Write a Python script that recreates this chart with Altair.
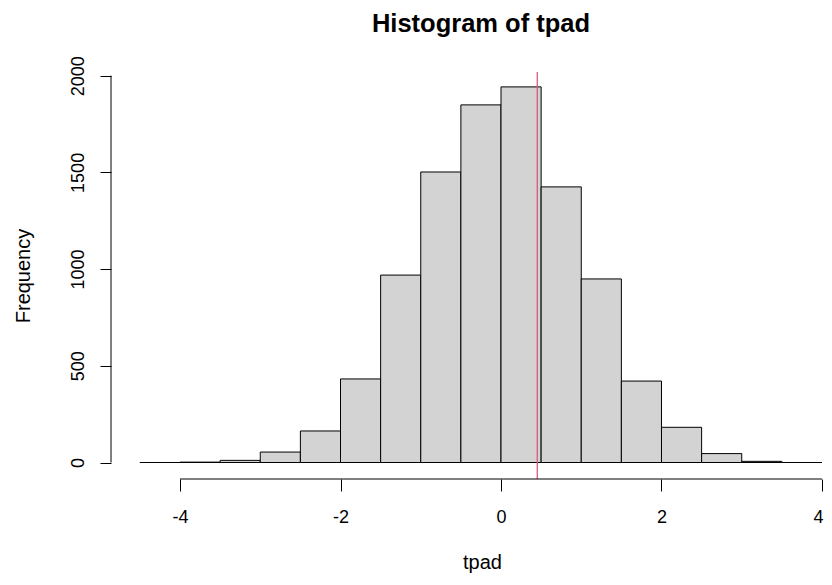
import altair as alt
import pandas as pd

# Histogram data (bin edges and counts)
bin_left = [-4.5, -4.0, -3.5, -3.0, -2.5, -2.0, -1.5, -1.0, -0.5, 0.0, 0.5, 1.0, 1.5, 2.0, 2.5, 3.0, 3.5]
bin_right = [-4.0, -3.5, -3.0, -2.5, -2.0, -1.5, -1.0, -0.5, 0.0, 0.5, 1.0, 1.5, 2.0, 2.5, 3.0, 3.5, 4.0]
counts = [0, 2, 11, 54, 163, 432, 969, 1502, 1849, 1942, 1425, 949, 421, 182, 46, 6, 0]

x_ticks = [-4, -2, 0, 2, 4]
y_ticks = [0, 500, 1000, 1500, 2000]
vline_x = [0.452]
title_text = ["Histogram of tpad"]

bars_df = pd.DataFrame({"left": bin_left, "right": bin_right, "count": counts, "base": [0] * len(counts)})
xaxis_df = pd.DataFrame({"a": [min(x_ticks)], "b": [max(x_ticks)]})
yaxis_df = pd.DataFrame({"a": [min(y_ticks)], "b": [max(y_ticks)]})
vline_df = pd.DataFrame({"v": vline_x})
title_df = pd.DataFrame({"t": title_text})

FONT = "Liberation Sans"
W, H = 713, 407

xscale = alt.Scale(domain=[-4.86, 4.025], nice=False, zero=False)
yscale = alt.Scale(domain=[-85.3, 2019.0], nice=False, zero=False)

xaxis = alt.Axis(
    values=x_ticks, domain=False, grid=False, tickSize=12, tickColor="black", tickWidth=1,
    labelFont=FONT, labelFontSize=18, labelColor="black", labelPadding=17, labelFlush=False,
    labelBaseline="top", labelAlign="center", labelExpr="'' + datum.value",
    labelOffset={"condition": {"test": "datum.value == 4", "value": -4}, "value": 0},
    title="tpad", titleFont=FONT, titleFontSize=20, titleFontWeight="normal", titleColor="black",
    titleX=371, titleY=89, titleBaseline="alphabetic", titleAlign="center",
)
yaxis = alt.Axis(
    values=y_ticks, domain=False, grid=False, tickSize=11, tickColor="black", tickWidth=1,
    labelFont=FONT, labelFontSize=18, labelColor="black", labelPadding=17, labelAngle=270,
    labelAlign="center", labelBaseline="alphabetic", labelFlush=False, labelExpr="'' + datum.value",
    title="Frequency", titleFont=FONT, titleFontSize=20, titleFontWeight="normal", titleColor="black",
    titleAngle=270, titleX=-82, titleY=203.5, titleBaseline="alphabetic", titleAlign="center",
)

bars = alt.Chart(bars_df).mark_rect(fill="#D3D3D3", stroke="black", strokeWidth=1).encode(
    x=alt.X("left:Q", scale=xscale, axis=xaxis),
    x2="right:Q",
    y=alt.Y("count:Q", scale=yscale, axis=yaxis),
    y2="base:Q",
)

xline = alt.Chart(xaxis_df).mark_rule(color="black", strokeWidth=1).encode(
    x=alt.X("a:Q", scale=xscale), x2="b:Q", y=alt.value(H)
)
yline = alt.Chart(yaxis_df).mark_rule(color="black", strokeWidth=1).encode(
    y=alt.Y("a:Q", scale=yscale), y2="b:Q", x=alt.value(0)
)
vline = alt.Chart(vline_df).mark_rule(color="#D65A78", strokeWidth=1.3).encode(
    x=alt.X("v:Q", scale=xscale)
)
title = alt.Chart(title_df).mark_text(
    font=FONT, fontSize=25.5, fontWeight="bold", color="black", align="center", baseline="alphabetic"
).encode(text="t:N", x=alt.value(370), y=alt.value(-40))

chart = alt.layer(bars, vline, xline, yline, title).properties(
    width=W,
    height=H,
    autosize=alt.AutoSizeParams(type="none"),
    padding={"left": 103, "top": 64, "right": 0, "bottom": 94},
    background="white",
).configure_view(stroke=None)

chart.save("out.html", embed_options={"renderer": "svg", "actions": False})
